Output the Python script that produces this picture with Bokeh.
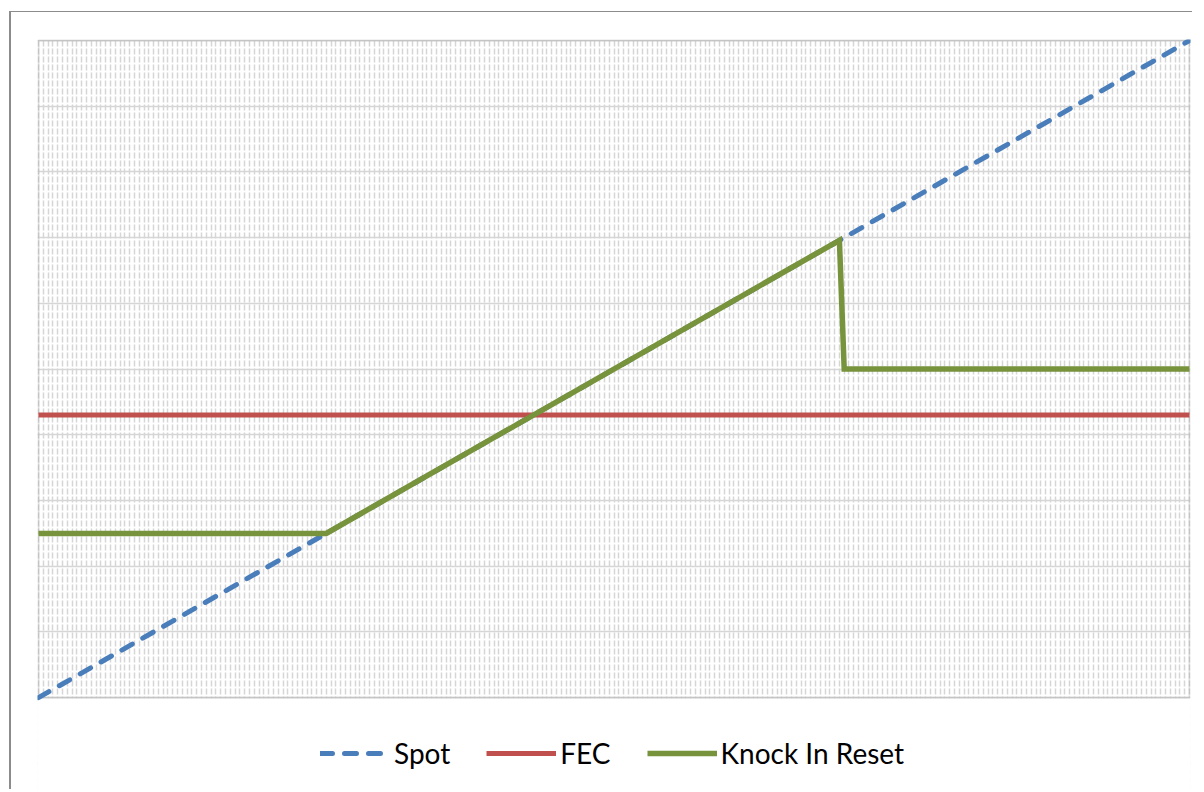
from bokeh.plotting import figure
from bokeh.models import Range1d, SingleIntervalTicker, Legend, LegendItem, BoxAnnotation
from bokeh.embed import file_html
from bokeh.resources import INLINE

# ---- data ----
spot_steps = [0, 240]
spot = [0.0, 10.0]

fec_steps = [0, 240]
fec = [4.3, 4.3]

kir_steps = [0, 60, 167, 168, 240]
knock_in_reset = [2.5, 2.5, 6.96, 5.0, 5.0]

series_names = ["Spot", "FEC", "Knock In Reset"]
colors = ["#4A7EBB", "#C0504D", "#77933C"]

# value axis spans 0..10; the extra room below zero holds the legend
x_lo, x_hi = 0, 240
y_lo, y_hi = 0, 10
pad_x = 0.21          # ~1px so the plot-area frame is not clipped
pad_y_top = 0.016
legend_room = 1.413   # room below zero for the legend

p = figure(width=1183, height=778, output_backend="svg", toolbar_location=None,
           x_range=Range1d(x_lo - pad_x, x_hi + pad_x),
           y_range=Range1d(y_lo - legend_room, y_hi + pad_y_top),
           min_border_left=26, min_border_top=27, min_border_right=4,
           min_border_bottom=0)
p.styles = {"margin-top": "11px", "margin-left": "9px",
            "border-left": "2px solid #8c8c8c",
            "border-top": "1px solid #8c8c8c"}

p.xaxis.visible = False
p.yaxis.visible = False

p.xgrid.ticker = SingleIntervalTicker(interval=1, num_minor_ticks=0)
p.xgrid.grid_line_color = "#d6d6d6"
p.xgrid.grid_line_width = 1.5
p.xgrid.grid_line_dash = "6 2"
p.ygrid.ticker = SingleIntervalTicker(interval=1, num_minor_ticks=0)
p.ygrid.grid_line_color = "#d6d6d6"
p.ygrid.grid_line_width = 1.4

p.outline_line_color = None
p.background_fill_color = "white"
p.border_fill_color = "white"

# blank area under the value axis (legend zone)
p.add_layout(BoxAnnotation(left=x_lo - 2, right=x_hi + 2,
                           bottom=y_lo - legend_room - 1, top=y_lo - 0.01,
                           fill_color="white", fill_alpha=1.0,
                           line_color=None, line_alpha=0, level="underlay"))
# plot-area frame
p.add_layout(BoxAnnotation(left=x_lo, right=x_hi, bottom=y_lo, top=y_hi,
                           fill_alpha=0, fill_color=None,
                           line_color="#9a9a9a", line_width=2,
                           level="underlay"))

r_spot = p.line(spot_steps, spot, line_color=colors[0], line_width=5,
                line_dash="12 12", line_cap="round")
r_fec = p.line(fec_steps, fec, line_color=colors[1], line_width=5)
r_kir = p.line(kir_steps, knock_in_reset, line_color=colors[2], line_width=5.5,
               line_join="miter")

legend = Legend(
    items=[LegendItem(label=series_names[0], renderers=[r_spot]),
           LegendItem(label=series_names[1], renderers=[r_fec]),
           LegendItem(label=series_names[2], renderers=[r_kir])],
    orientation="horizontal", location=(283, 20),
    label_text_font="Lato", label_text_font_size="28px", label_text_color="#000000",
    glyph_width=70, glyph_height=30, label_height=30, label_standoff=4, spacing=36,
    padding=0, margin=0, border_line_color=None, background_fill_alpha=0,
)
p.add_layout(legend, "center")

open("out.html", "w").write(file_html(p, INLINE))
